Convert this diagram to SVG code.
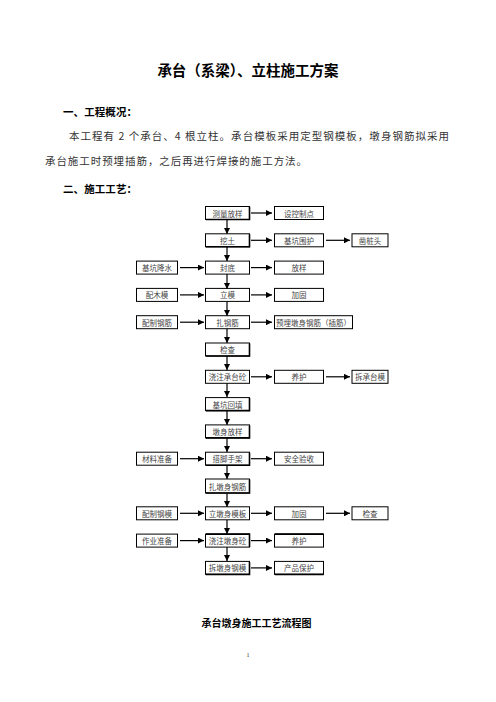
<svg xmlns="http://www.w3.org/2000/svg" width="496" height="702" viewBox="0 0 496 702">
<defs>
<marker id="ah" viewBox="0 0 10 10" refX="10" refY="5" markerWidth="6" markerHeight="6" markerUnits="userSpaceOnUse" orient="auto">
<path d="M0,0 L10,5 L0,10 Z" fill="#000"/>
</marker>
<style>
.bx{fill:#fff;stroke:#000;stroke-width:1}
.sh{fill:none;stroke:#000;stroke-width:1.6}
.t{font-family:"Noto Sans CJK SC","Noto Sans",sans-serif;font-size:7.5px;fill:#444;text-anchor:middle;dominant-baseline:central}
.c{stroke:#000;stroke-width:1.2;fill:none;marker-end:url(#ah)}
.h{font-family:"Noto Sans CJK SC",sans-serif;font-weight:bold;fill:#000}
.b{font-family:"Noto Sans CJK SC",sans-serif;font-size:10.5px;fill:#333}
</style>
</defs>
<rect width="496" height="702" fill="#fff"/>
<text class="h" x="248" y="76" font-size="14.5" text-anchor="middle">承台（系梁）、立柱施工方案</text>
<text class="h" x="63" y="115.5" font-size="10.5" textLength="74" lengthAdjust="spacing">一、工程概况：</text>
<text class="b" x="69" y="140" textLength="380" lengthAdjust="spacing">本工程有 2 个承台、4 根立柱。承台模板采用定型钢模板，墩身钢筋拟采用</text>
<text class="b" x="45" y="164.5" textLength="262" lengthAdjust="spacing">承台施工时预埋插筋，之后再进行焊接的施工方法。</text>
<text class="h" x="63" y="193" font-size="10.5" textLength="74" lengthAdjust="spacing">二、施工工艺：</text>

<g id="connectors">
<path class="c" d="M227,220 V234"/>
<path class="c" d="M227,247 V261"/>
<path class="c" d="M227,274 V289"/>
<path class="c" d="M227,302 V316"/>
<path class="c" d="M227,329 V343"/>
<path class="c" d="M227,356 V370"/>
<path class="c" d="M227,383 V397"/>
<path class="c" d="M227,411 V425"/>
<path class="c" d="M227,438 V452"/>
<path class="c" d="M227,465 V479"/>
<path class="c" d="M227,493 V507"/>
<path class="c" d="M227,520 V534"/>
<path class="c" d="M227,547 V561"/>
<path class="c" d="M251,213 H272"/>
<path class="c" d="M251,240.3 H272"/>
<path class="c" d="M326,240.3 H350"/>
<path class="c" d="M180,267.6 H204"/>
<path class="c" d="M251,267.6 H272"/>
<path class="c" d="M180,294.9 H204"/>
<path class="c" d="M251,294.9 H272"/>
<path class="c" d="M180,322.2 H204"/>
<path class="c" d="M251,322.2 H272"/>
<path class="c" d="M251,376.8 H272"/>
<path class="c" d="M326,376.8 H350"/>
<path class="c" d="M180,458.7 H204"/>
<path class="c" d="M251,458.7 H272"/>
<path class="c" d="M180,513.3 H204"/>
<path class="c" d="M251,513.3 H272"/>
<path class="c" d="M326,513.3 H350"/>
<path class="c" d="M180,540.6 H204"/>
<path class="c" d="M251,540.6 H272"/>
<path class="c" d="M251,567.9 H272"/>
</g>

<g id="n1"><rect class="bx" x="205.5" y="206.5" width="44" height="13"/><path class="sh" d="M206,219.5 H249.5 V207"/><text class="t" x="227.5" y="213">测量放样</text></g>
<g id="n2"><rect class="bx" x="274.5" y="206.5" width="49" height="13"/><text class="t" x="299" y="213">设控制点</text></g>
<g id="n3"><rect class="bx" x="205.5" y="233.8" width="44" height="13"/><path class="sh" d="M206,246.8 H249.5 V234.3"/><text class="t" x="227.5" y="240.3">挖土</text></g>
<g id="n4"><rect class="bx" x="274.5" y="233.8" width="49" height="13"/><text class="t" x="299" y="240.3">基坑围护</text></g>
<g id="n5"><rect class="bx" x="352" y="233.8" width="36" height="13"/><text class="t" x="370" y="240.3">凿桩头</text></g>
<g id="n6"><rect class="bx" x="136.5" y="261.1" width="41" height="13"/><text class="t" x="157" y="267.6">基坑降水</text></g>
<g id="n7"><rect class="bx" x="205.5" y="261.1" width="44" height="13"/><text class="t" x="227.5" y="267.6">封底</text></g>
<g id="n8"><rect class="bx" x="274.5" y="261.1" width="49" height="13"/><text class="t" x="299" y="267.6">放样</text></g>
<g id="n9"><rect class="bx" x="136.5" y="288.4" width="41" height="13"/><text class="t" x="157" y="294.9">配木模</text></g>
<g id="n10"><rect class="bx" x="205.5" y="288.4" width="44" height="13"/><text class="t" x="227.5" y="294.9">立模</text></g>
<g id="n11"><rect class="bx" x="274.5" y="288.4" width="49" height="13"/><text class="t" x="299" y="294.9">加固</text></g>
<g id="n12"><rect class="bx" x="136.5" y="315.7" width="41" height="13"/><text class="t" x="157" y="322.2">配制钢筋</text></g>
<g id="n13"><rect class="bx" x="205.5" y="315.7" width="44" height="13"/><text class="t" x="227.5" y="322.2">扎钢筋</text></g>
<g id="n14"><rect class="bx" x="274.5" y="315.7" width="78" height="13"/><text class="t" x="313.5" y="322.2">预埋墩身钢筋（插筋）</text></g>
<g id="n15"><rect class="bx" x="205.5" y="343" width="44" height="13"/><path class="sh" d="M206,356 H249.5 V343.5"/><text class="t" x="227.5" y="349.5">检查</text></g>
<g id="n16"><rect class="bx" x="205.5" y="370.3" width="44" height="13"/><text class="t" x="227.5" y="376.8">浇注承台砼</text></g>
<g id="n17"><rect class="bx" x="274.5" y="370.3" width="49" height="13"/><text class="t" x="299" y="376.8">养护</text></g>
<g id="n18"><rect class="bx" x="352" y="370.3" width="36" height="13"/><text class="t" x="370" y="376.8">拆承台模</text></g>
<g id="n19"><rect class="bx" x="205.5" y="397.6" width="44" height="13"/><path class="sh" d="M206,410.6 H249.5 V398.1"/><text class="t" x="227.5" y="404.1">基坑回填</text></g>
<g id="n20"><rect class="bx" x="205.5" y="424.9" width="44" height="13"/><path class="sh" d="M206,437.9 H249.5 V425.4"/><text class="t" x="227.5" y="431.4">墩身放样</text></g>
<g id="n21"><rect class="bx" x="136.5" y="452.2" width="41" height="13"/><text class="t" x="157" y="458.7">材料准备</text></g>
<g id="n22"><rect class="bx" x="205.5" y="452.2" width="44" height="13"/><path class="sh" d="M206,465.2 H249.5 V452.7"/><text class="t" x="227.5" y="458.7">搭脚手架</text></g>
<g id="n23"><rect class="bx" x="274.5" y="452.2" width="49" height="13"/><text class="t" x="299" y="458.7">安全验收</text></g>
<g id="n24"><rect class="bx" x="205.5" y="479" width="44" height="14"/><path class="sh" d="M206,493 H249.5 V479.5"/><text class="t" x="227.5" y="486">扎墩身钢筋</text></g>
<g id="n25"><rect class="bx" x="136.5" y="506.8" width="41" height="13"/><text class="t" x="157" y="513.3">配制钢模</text></g>
<g id="n26"><rect class="bx" x="205.5" y="506.8" width="44" height="13"/><text class="t" x="227.5" y="513.3">立墩身模板</text></g>
<g id="n27"><rect class="bx" x="274.5" y="506.8" width="49" height="13"/><text class="t" x="299" y="513.3">加固</text></g>
<g id="n28"><rect class="bx" x="352" y="506.8" width="36" height="13"/><text class="t" x="370" y="513.3">检查</text></g>
<g id="n29"><rect class="bx" x="136.5" y="534.1" width="41" height="13"/><text class="t" x="157" y="540.6">作业准备</text></g>
<g id="n30"><rect class="bx" x="205.5" y="534.1" width="44" height="13"/><path class="sh" d="M206,534.1 H249.5 V547"/><text class="t" x="227.5" y="540.6">浇注墩身砼</text></g>
<g id="n31"><rect class="bx" x="274.5" y="534.1" width="49" height="13"/><path class="sh" d="M275,534.1 H323.5"/><text class="t" x="299" y="540.6">养护</text></g>
<g id="n32"><rect class="bx" x="205.5" y="561.4" width="44" height="13"/><path class="sh" d="M206,574.4 H249.5 V561.9"/><text class="t" x="227.5" y="567.9">拆墩身钢模</text></g>
<g id="n33"><rect class="bx" x="274.5" y="561.4" width="49" height="13"/><path class="sh" d="M275,574.4 H323.5"/><text class="t" x="299" y="567.9">产品保护</text></g>

<text class="h" x="256.5" y="627" font-size="10" text-anchor="middle" textLength="110" lengthAdjust="spacing">承台墩身施工工艺流程图</text>
<text x="248" y="657" font-family="Liberation Serif,serif" font-size="6" text-anchor="middle" fill="#333">1</text>
</svg>
